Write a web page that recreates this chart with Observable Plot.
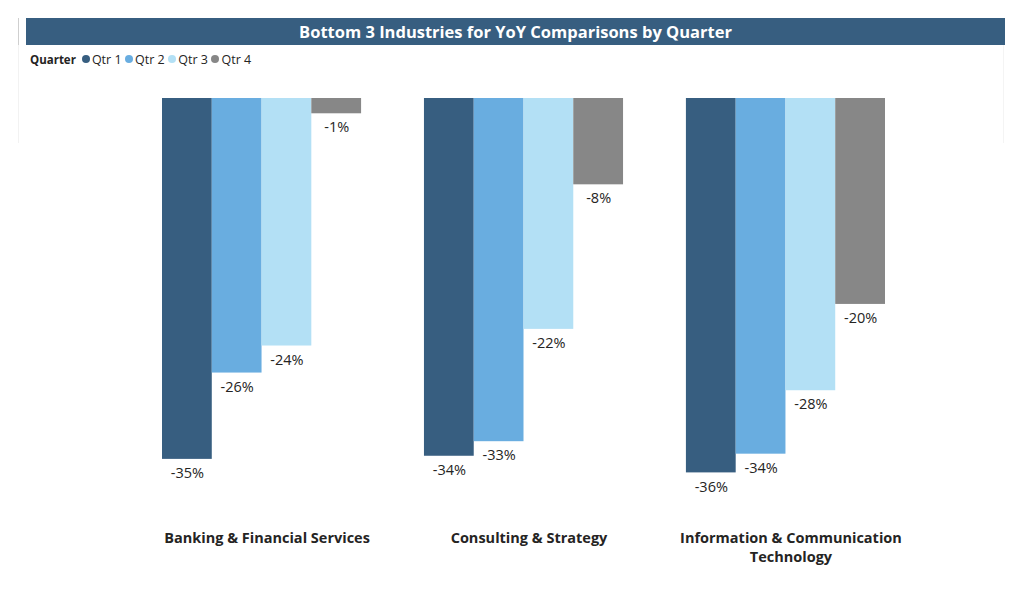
<!DOCTYPE html>
<html>
<head>
<meta charset="utf-8">
<script src="https://cdn.jsdelivr.net/npm/d3@7"></script>
<script src="https://cdn.jsdelivr.net/npm/@observablehq/plot@0.6"></script>
<style>
  html, body { margin: 0; padding: 0; background: #fff; }
  body { width: 1024px; height: 592px; position: relative; overflow: hidden; font-family: "Open Sans", sans-serif; }
  #frame { position: absolute; left: 18px; top: 18px; width: 986px; height: 125px; border-left: 1px solid #f2f2f2; border-right: 1px solid #f4f4f4; box-sizing: border-box; }
  #frameTop { position: absolute; left: 18px; top: 18px; width: 1px; height: 27px; background: #cfcfcf; }
  #title { position: absolute; left: 26px; top: 18px; width: 979px; height: 27px; background: #375e80; color: #fff;
           font-weight: 700; font-size: 16.5px; line-height: 27px; text-align: center; z-index: 2; }
  #legend { position: absolute; left: 30px; top: 50px; height: 18px; display: flex; align-items: center; font-size: 12.5px; color: #252423; z-index: 2; }
  #legend .hdr { font-weight: 700; font-size: 11.5px; margin-right: 6px; }
  #legend .item { display: flex; align-items: center; margin-right: 3.5px; }
  #legend .dot { width: 8px; height: 8px; border-radius: 50%; margin-right: 2px; }
  #chart { position: absolute; left: 0; top: 0; z-index: 1; }
</style>
</head>
<body>
<div id="frame"></div>
<div id="frameTop"></div>
<div id="title">Bottom 3 Industries for YoY Comparisons by Quarter</div>
<div id="legend"></div>
<div id="chart"></div>
<script>
const industries = ["Banking & Financial Services", "Consulting & Strategy", "Information & Communication Technology"];
const quarters = ["Qtr 1", "Qtr 2", "Qtr 3", "Qtr 4"];
const qtr1 = [-0.347, -0.344, -0.360];
const qtr2 = [-0.264, -0.330, -0.342];
const qtr3 = [-0.238, -0.222, -0.281];
const qtr4 = [-0.0147, -0.083, -0.198];
const colors = ["#375e80", "#69ade0", "#b3e0f5", "#878787"];
const industryLabels = ["Banking & Financial Services", "Consulting & Strategy", "Information & Communication\nTechnology"];

const series = [qtr1, qtr2, qtr3, qtr4];
const data = [];
industries.forEach((ind, i) => {
  quarters.forEach((q, j) => data.push({industry: ind, quarter: q, value: series[j][i]}));
});

// legend
const legend = document.getElementById("legend");
legend.innerHTML = `<span class="hdr">Quarter</span>` + quarters.map((q, j) =>
  `<span class="item"><span class="dot" style="background:${colors[j]}"></span>${q}</span>`).join("");

const fmt = d3.format(".0%");
const plot = Plot.plot({
  width: 1024,
  height: 592,
  marginTop: 98,
  marginBottom: 78,
  marginLeft: 162,
  marginRight: 139,
  style: {fontFamily: "Open Sans, sans-serif", background: "transparent"},
  fx: {domain: industries, paddingInner: 0.24, paddingOuter: 0, round: false, label: null},
  x: {domain: quarters, padding: 0, round: false, axis: null},
  y: {domain: [-0.4, 0], axis: null},
  color: {domain: quarters, range: colors},
  marks: [
    Plot.barY(data, {fx: "industry", x: "quarter", y: "value", fill: "quarter"}),
    Plot.text(data, {fx: "industry", x: "quarter", y: "value", text: d => fmt(d.value).replace("−", "-"),
      dy: 14, fontSize: 14.5, fill: "#252423"}),
    Plot.axisFx({anchor: "bottom", tickSize: 0, tickPadding: 15, dx: 5, fontSize: 14.5, fontWeight: 700,
      fill: "#252423", lineHeight: 1.3, lineAnchor: "top",
      tickFormat: d => industryLabels[industries.indexOf(d)], label: null})
  ]
});
document.getElementById("chart").appendChild(plot);
</script>
</body>
</html>
